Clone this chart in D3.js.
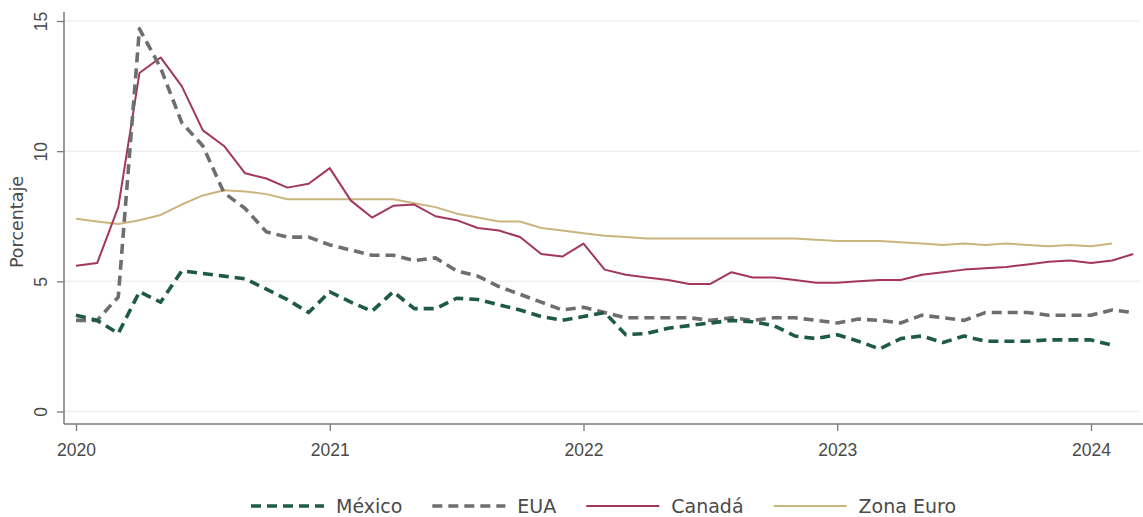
<!DOCTYPE html>
<html><head><meta charset="utf-8">
<script src="https://cdn.jsdelivr.net/npm/d3@7"></script>
<style>
html,body{margin:0;padding:0;background:#fff;}
svg{display:block;font-family:"DejaVu Sans",sans-serif;}
</style></head>
<body>
<svg id="chart" width="1143" height="517"></svg>
<script>
// Monthly data, January 2020 onward
const startYear = 2020;
const mexico = [
  3.7, 3.5, 3.0, 4.6, 4.2, 5.4, 5.3, 5.2, 5.1, 4.7, 4.3, 3.8,
  4.6, 4.2, 3.85, 4.6, 3.95, 3.95, 4.35, 4.3, 4.1, 3.9, 3.65, 3.5,
  3.65, 3.8, 2.95, 3.0, 3.2, 3.3, 3.4, 3.5, 3.45, 3.3, 2.9, 2.8,
  2.95, 2.7, 2.4, 2.8, 2.9, 2.65, 2.9, 2.7, 2.7, 2.7, 2.75, 2.75,
  2.75, 2.55
];
const eua = [
  3.5, 3.5, 4.4, 14.7, 13.2, 11.1, 10.2, 8.4, 7.8, 6.9, 6.7, 6.7,
  6.4, 6.2, 6.0, 6.0, 5.8, 5.9, 5.4, 5.2, 4.8, 4.5, 4.2, 3.9,
  4.0, 3.8, 3.6, 3.6, 3.6, 3.6, 3.5, 3.6, 3.5, 3.6, 3.6, 3.5,
  3.4, 3.55, 3.5, 3.4, 3.7, 3.6, 3.5, 3.8, 3.8, 3.8, 3.7, 3.7,
  3.7, 3.9, 3.8
];
const canada = [
  5.6, 5.7, 7.85, 13.0, 13.6, 12.5, 10.8, 10.2, 9.15, 8.95, 8.6, 8.75,
  9.35, 8.1, 7.45, 7.9, 7.95, 7.5, 7.35, 7.05, 6.95, 6.7, 6.05, 5.95,
  6.45, 5.45, 5.25, 5.15, 5.05, 4.9, 4.9, 5.35, 5.15, 5.15, 5.05, 4.95,
  4.95, 5.0, 5.05, 5.05, 5.25, 5.35, 5.45, 5.5, 5.55, 5.65, 5.75, 5.8,
  5.7, 5.8, 6.05
];
const zonaEuro = [
  7.4, 7.3, 7.2, 7.35, 7.55, 7.95, 8.3, 8.5, 8.45, 8.35, 8.15, 8.15,
  8.15, 8.15, 8.15, 8.15, 8.0, 7.85, 7.6, 7.45, 7.3, 7.3, 7.05, 6.95,
  6.85, 6.75, 6.7, 6.65, 6.65, 6.65, 6.65, 6.65, 6.65, 6.65, 6.65, 6.6,
  6.55, 6.55, 6.55, 6.5, 6.45, 6.4, 6.45, 6.4, 6.45, 6.4, 6.35, 6.4,
  6.35, 6.45
];
const yearTicks = [2020, 2021, 2022, 2023, 2024];
const yTicks = [0, 5, 10, 15];
const yLabel = "Porcentaje";

const series = [
  {name: "México", values: mexico, color: "#1f5a44", width: 3.6, dash: "10,6"},
  {name: "EUA", values: eua, color: "#6e6e6e", width: 3.6, dash: "10,6"},
  {name: "Canadá", values: canada, color: "#a3365d", width: 2, dash: null},
  {name: "Zona Euro", values: zonaEuro, color: "#cbb57f", width: 2, dash: null}
];

const svg = d3.select("#chart");
const axisX0 = 64, axisY0 = 424, plotTop = 12, plotRight = 1143;
const textColor = "#4a4a4a";
const axisColor = "#7a7a7a";

const x = d3.scaleLinear().domain([2020, 2024]).range([76, 1091]);
const y = d3.scaleLinear().domain([0, 15]).range([411.5, 21]);

// gridlines
svg.append("g").selectAll("line").data(yTicks).join("line")
  .attr("x1", axisX0).attr("x2", 1140)
  .attr("y1", d => y(d)).attr("y2", d => y(d))
  .attr("stroke", "#efefef").attr("stroke-width", 1.5);

// y axis
const gy = svg.append("g").attr("transform", `translate(${axisX0},0)`)
  .call(d3.axisLeft(y).tickValues(yTicks).tickSize(7).tickPadding(0).tickFormat(d3.format("d")));
gy.select(".domain").remove();
gy.selectAll(".tick line").attr("stroke", axisColor).attr("stroke-width", 1.3);
gy.selectAll(".tick text")
  .attr("transform", "rotate(-90)")
  .attr("x", 0).attr("y", -17).attr("dy", 0)
  .attr("text-anchor", "middle")
  .attr("fill", textColor)
  .style("font-size", "17.5px");
svg.append("line").attr("x1", axisX0).attr("x2", axisX0).attr("y1", plotTop).attr("y2", axisY0)
  .attr("stroke", axisColor).attr("stroke-width", 1.5);

// x axis
const gx = svg.append("g").attr("transform", `translate(0,${axisY0})`)
  .call(d3.axisBottom(x).tickValues(yearTicks).tickSize(7).tickPadding(13).tickFormat(d3.format("d")));
gx.select(".domain").remove();
gx.selectAll(".tick line").attr("stroke", axisColor).attr("stroke-width", 1.3);
gx.selectAll(".tick text").attr("fill", textColor).style("font-size", "17.5px");
svg.append("line").attr("x1", axisX0).attr("x2", plotRight).attr("y1", axisY0).attr("y2", axisY0)
  .attr("stroke", axisColor).attr("stroke-width", 1.5);

// y label
svg.append("text")
  .attr("transform", `translate(23,${(plotTop + axisY0) / 2 + 4}) rotate(-90)`)
  .attr("text-anchor", "middle")
  .attr("fill", textColor)
  .style("font-size", "17.5px")
  .text(yLabel);

// lines
const line = d3.line()
  .x((d, i) => x(startYear + i / 12))
  .y(d => y(d));

const drawOrder = [3, 2, 1, 0];
drawOrder.forEach(k => {
  const s = series[k];
  svg.append("path")
    .datum(s.values)
    .attr("fill", "none")
    .attr("stroke", s.color)
    .attr("stroke-width", s.width)
    .attr("stroke-linejoin", "round")
    .attr("stroke-dasharray", s.dash)
    .attr("d", line);
});

// legend
const legY = 506, sampleLen = 73, sampleGap = 12, itemGap = 30;
const leg = svg.append("g");
const items = series.map(s => {
  const g = leg.append("g");
  g.append("line").attr("x1", 0).attr("x2", sampleLen).attr("y1", legY).attr("y2", legY)
    .attr("stroke", s.color).attr("stroke-width", s.width).attr("stroke-dasharray", s.dash);
  const t = g.append("text").attr("x", sampleLen + sampleGap).attr("y", legY).attr("dy", "0.36em")
    .attr("fill", textColor).style("font-size", "19px").text(s.name);
  return {g, w: sampleLen + sampleGap + t.node().getComputedTextLength()};
});
const total = d3.sum(items, d => d.w) + itemGap * (items.length - 1);
let cx = (axisX0 + plotRight) / 2 - total / 2;
items.forEach(it => { it.g.attr("transform", `translate(${cx},0)`); cx += it.w + itemGap; });
</script>
</body></html>
